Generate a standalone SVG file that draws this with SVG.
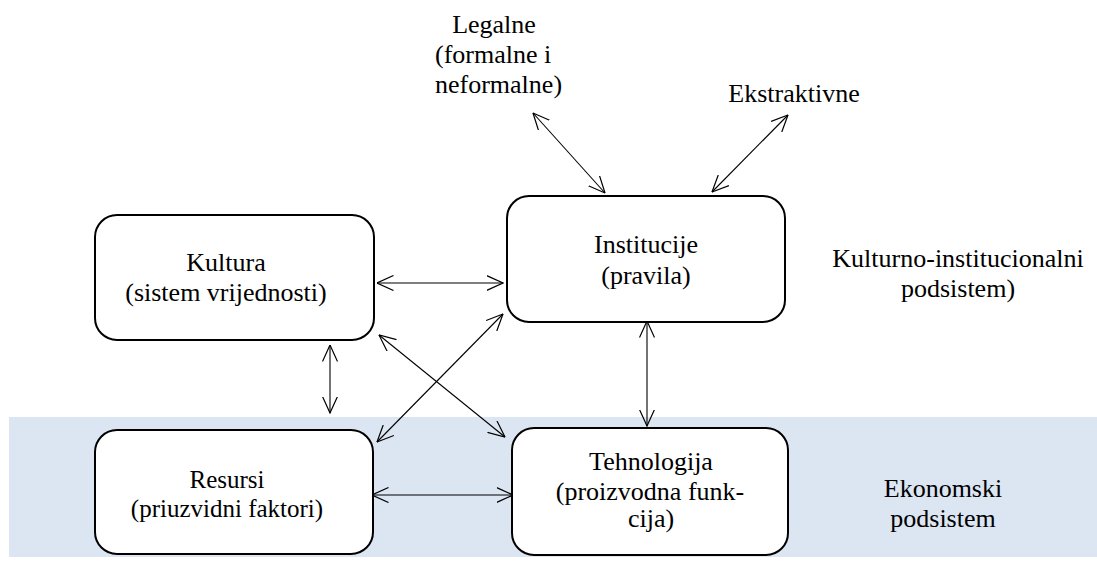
<svg xmlns="http://www.w3.org/2000/svg" width="1097" height="562" viewBox="0 0 1097 562" font-family="'Liberation Serif', 'Times New Roman', Times, 'DejaVu Serif', serif">
<style>
.box{fill:#fff;stroke:#000;stroke-width:2}
text{font-family:'Liberation Serif','Times New Roman',Times,serif;font-size:26px;fill:#000}
.c{text-anchor:middle}
.con line{stroke:#000;stroke-width:1.1;marker-start:url(#ah);marker-end:url(#ah)}
</style>
<defs>
<marker id="ah" viewBox="0 0 17 16" refX="16.5" refY="8" markerWidth="17" markerHeight="16" markerUnits="userSpaceOnUse" orient="auto-start-reverse">
<path d="M0,0.5 L16.5,8 L0,15.5" fill="none" stroke="#000" stroke-width="1.2"/>
</marker>
</defs>
<rect x="0" y="0" width="1097" height="562" fill="#fff"/>
<rect id="band" x="9" y="417" width="1088" height="140" fill="#DCE6F2"/>
<g class="con" id="connectors">
<line x1="377" y1="283" x2="503" y2="283"/>
<line x1="330" y1="345" x2="330" y2="413"/>
<line x1="379" y1="335" x2="505" y2="437"/>
<line x1="377" y1="442" x2="503" y2="314"/>
<line x1="372" y1="495" x2="513" y2="495"/>
<line x1="647" y1="321" x2="647" y2="426"/>
<line x1="533" y1="113" x2="605" y2="193"/>
<line x1="788" y1="115" x2="712" y2="192"/>
</g>
<g id="kultura">
<rect class="box" x="95" y="215" width="279" height="125" rx="22"/>
<text class="c" x="226" y="271">Kultura</text>
<text class="c" x="226" y="301">(sistem vrijednosti)</text>
</g>
<g id="institucije">
<rect class="box" x="507" y="196" width="278" height="126" rx="22"/>
<text class="c" x="646" y="253">Institucije</text>
<text class="c" x="646" y="284">(pravila)</text>
</g>
<g id="resursi">
<rect class="box" x="95" y="430" width="278" height="124" rx="22"/>
<text class="c" x="227" y="488" style="font-size:25px">Resursi</text>
<text class="c" x="227" y="517" style="font-size:25px">(priuzvidni faktori)</text>
</g>
<g id="tehnologija">
<rect class="box" x="512" y="428" width="276" height="127" rx="22"/>
<text class="c" x="651" y="470">Tehnologija</text>
<text class="c" x="650" y="500">(proizvodna funk-</text>
<text class="c" x="651" y="527">cija)</text>
</g>
<g id="legalne">
<text class="c" x="494" y="33">Legalne</text>
<text x="435" y="63">(formalne i</text>
<text x="435" y="93">neformalne)</text>
</g>
<g id="ekstraktivne">
<text class="c" x="794" y="102">Ekstraktivne</text>
</g>
<g id="kulturno">
<text class="c" x="958" y="267">Kulturno-institucionalni</text>
<text class="c" x="958" y="297">podsistem)</text>
</g>
<g id="ekonomski">
<text class="c" x="943" y="497">Ekonomski</text>
<text class="c" x="943" y="527">podsistem</text>
</g>
</svg>
